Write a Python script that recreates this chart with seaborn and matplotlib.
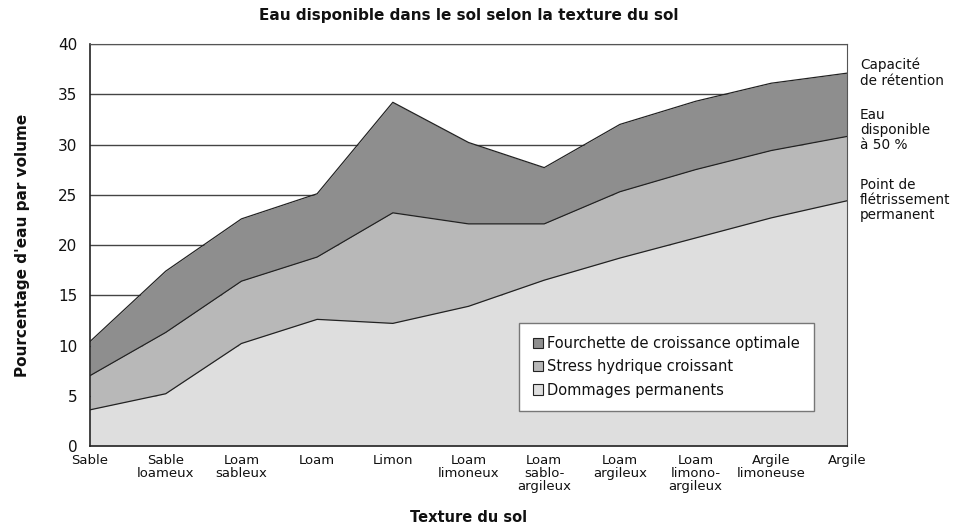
import matplotlib
matplotlib.use('Agg')
import matplotlib.pyplot as plt
from matplotlib.patches import Patch
import seaborn as sns
import pandas as pd

textures = ['Sable', 'Sable\nloameux', 'Loam\nsableux', 'Loam', 'Limon', 'Loam\nlimoneux',
            'Loam\nsablo-\nargileux', 'Loam\nargileux', 'Loam\nlimono-\nargileux',
            'Argile\nlimoneuse', 'Argile']
capacite = [10.4, 17.4, 22.6, 25.1, 34.2, 30.2, 27.7, 32.0, 34.3, 36.1, 37.1]
eau_50 = [7.0, 11.3, 16.4, 18.8, 23.2, 22.1, 22.1, 25.3, 27.5, 29.4, 30.8]
fletrissement = [3.6, 5.2, 10.2, 12.6, 12.2, 13.9, 16.5, 18.7, 20.7, 22.7, 24.4]

legende = ['Fourchette de croissance optimale', 'Stress hydrique croissant', 'Dommages permanents']
couleurs = ['#8e8e8e', '#b8b8b8', '#dedede']

sns.set_style('white')
plt.rcParams['font.family'] = ['DejaVu Sans']
plt.rcParams['text.color'] = '#111111'
plt.rcParams['axes.labelcolor'] = '#111111'
plt.rcParams['xtick.labelcolor'] = '#111111'
plt.rcParams['ytick.labelcolor'] = '#111111'

df = pd.DataFrame({'pos': range(len(textures)), 'capacite': capacite,
                   'eau_50': eau_50, 'fletrissement': fletrissement})

fig = plt.figure(figsize=(9.61, 5.27), dpi=100)
ax = fig.add_axes([0.0937, 0.1537, 0.7877, 0.7628])

# bandes empilées
ax.fill_between(df['pos'], df['eau_50'], df['capacite'], color=couleurs[0], lw=0, zorder=2)
ax.fill_between(df['pos'], df['fletrissement'], df['eau_50'], color=couleurs[1], lw=0, zorder=2)
ax.fill_between(df['pos'], 0, df['fletrissement'], color=couleurs[2], lw=0, zorder=2)
for col in ['capacite', 'eau_50', 'fletrissement']:
    sns.lineplot(data=df, x='pos', y=col, color='#222222', lw=0.9, ax=ax, zorder=3)

ax.set_xlim(0, len(textures) - 1)
ax.set_ylim(0, 40)
ax.set_yticks(range(0, 41, 5))
ax.set_xticks(range(len(textures)))
ax.set_xticklabels(textures, fontsize=9.5, linespacing=1.0)
ax.tick_params(axis='y', labelsize=11, length=5, width=1, color='#333333', pad=4)
ax.tick_params(axis='x', length=4, width=1, color='#333333', pad=2)
ax.yaxis.grid(True, color='#444444', lw=1, zorder=1)
ax.set_axisbelow(True)
for s in ['left', 'bottom']:
    ax.spines[s].set_color('#222222')
    ax.spines[s].set_linewidth(1.2)
ax.spines['right'].set_color('#555555')
ax.spines['top'].set_color('#555555')

ax.set_xlabel('Texture du sol', fontsize=10.5, fontweight='bold', labelpad=12)
ax.set_ylabel("Pourcentage d'eau par volume", fontsize=11, fontweight='bold', labelpad=20)
ax.set_title('Eau disponible dans le sol selon la texture du sol', fontsize=11,
             fontweight='bold', pad=17)

handles = [Patch(facecolor=c, edgecolor='#222222', lw=0.8) for c in couleurs]
leg = ax.legend(handles, legende, loc='lower right', bbox_to_anchor=(0.966, 0.068),
                fontsize=10.5, frameon=True, fancybox=False, framealpha=1,
                edgecolor='#777777', handlelength=0.7, handleheight=0.7,
                handletextpad=0.3, labelspacing=0.55, borderpad=0.95)
leg.set_zorder(5)

fig.text(0.895, 1 - 58 / 527, 'Capacité\nde rétention', fontsize=9.8, va='top', linespacing=1.1)
fig.text(0.895, 1 - 108 / 527, 'Eau\ndisponible\nà 50 %', fontsize=9.8, va='top', linespacing=1.1)
fig.text(0.895, 1 - 178 / 527, 'Point de\nflétrissement\npermanent', fontsize=9.8, va='top',
         linespacing=1.1)

fig.savefig('out.png', dpi=100)
